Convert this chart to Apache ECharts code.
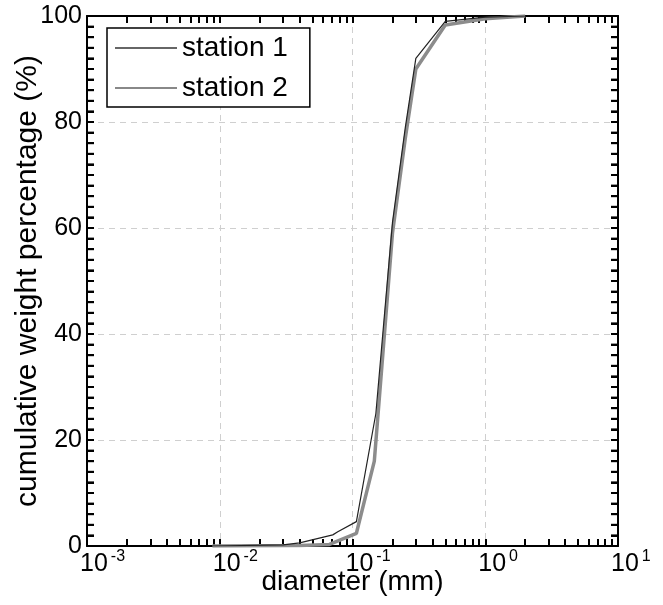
<!DOCTYPE html>
<html>
<head>
<meta charset="utf-8">
<script src="https://cdn.jsdelivr.net/npm/echarts@6/dist/echarts.min.js"></script>
<style>html,body{margin:0;padding:0;background:#fff}#c{width:663px;height:605px}</style>
</head>
<body>
<div id="c"></div>
<script>
// diameter (mm) and cumulative weight percentage (%)
var station1D = [0.0088, 0.03, 0.04, 0.071, 0.0775, 0.107, 0.15, 0.2, 0.25, 0.3, 0.5, 1, 2];
var station1V = [0, 0.2, 0.6, 2.1, 2.7, 4.6, 25, 61, 79, 92, 99.0, 99.8, 100];
var station2D = [0.0088, 0.04, 0.067, 0.107, 0.146, 0.2, 0.25, 0.3, 0.5, 1, 2];
var station2V = [0, 0.1, 0.3, 2.4, 16, 59, 77, 90, 98.3, 99.5, 100];
var seriesNames = ['station 1', 'station 2'];
var xMajorTicks = [0.001, 0.01, 0.1, 1, 10];
var xMinorFactors = [1, 2, 3, 4, 5, 6, 7, 8, 9];
var yTicks = [0, 20, 40, 60, 80, 100];
var yMinorStep = 2;

var FONT = "'Liberation Sans', Arial, Helvetica, sans-serif";
var xMin = xMajorTicks[0], xMax = xMajorTicks[xMajorTicks.length - 1];
var xAllTicks = [];
xMajorTicks.slice(0, -1).forEach(function (m) {
  xMinorFactors.forEach(function (f) { xAllTicks.push(+(m * f).toPrecision(6)); });
});
xAllTicks.push(xMax);
var yAllTicks = [];
for (var v = yTicks[0]; v <= yTicks[yTicks.length - 1]; v += yMinorStep) yAllTicks.push(v);
// y tick marks on both the left and right frame edges
var yTickData = [];
yAllTicks.forEach(function (t) { yTickData.push([xMin, t, 1]); yTickData.push([xMax, t, -1]); });

function zip(a, b) { return a.map(function (v, i) { return [v, b[i]]; }); }

function gridLine() { return { show: true, lineStyle: { color: '#cfcfcf', type: [6, 5], width: 1 } }; }
function xBase(pos) {
  return {
    type: 'log', logBase: 10, min: xMin, max: xMax, position: pos,
    axisLine: { show: true, onZero: false, lineStyle: { color: '#000', width: 2 } },
    axisTick: { show: true, inside: true, length: 7, customValues: xAllTicks, lineStyle: { color: '#000', width: 2 } },
    axisLabel: { show: false },
    splitLine: { show: false }
  };
}
var xMain = {
  type: 'log', logBase: 10, min: xMin, max: xMax, position: 'bottom',
  axisLine: { show: false, onZero: false },
  axisTick: { show: false },
  axisLabel: {
    show: true, customValues: xMajorTicks, margin: 3, align: 'left', padding: [0, 0, 0, -7],
    formatter: function (v) { var e = Math.round(Math.log10(v)); return '{b|10}{s|' + e + '}'; },
    rich: {
      b: { fontSize: 25, fontFamily: FONT, color: '#000', verticalAlign: 'bottom' },
      s: { fontSize: 16, fontFamily: FONT, color: '#000', verticalAlign: 'bottom', padding: [0, 0, 12, 3] }
    }
  },
  splitLine: gridLine(),
  name: 'diameter (mm)', nameLocation: 'middle', nameGap: 22, nameMoveOverlap: false,
  nameTextStyle: { fontSize: 28, fontFamily: FONT, color: '#000', verticalAlign: 'top' }
};
function yBase(pos) {
  return {
    type: 'value', min: yTicks[0], max: yTicks[yTicks.length - 1], interval: 20, position: pos,
    axisLine: { show: true, lineStyle: { color: '#000', width: 2 } },
    axisTick: { show: true, inside: true, length: 7, lineStyle: { color: '#000', width: 2 } },
    minorTick: { show: true, splitNumber: 10, length: 7, lineStyle: { color: '#000', width: 2 } },
    axisLabel: { show: false },
    splitLine: { show: false }
  };
}
var yMain = {
  type: 'value', min: yTicks[0], max: yTicks[yTicks.length - 1], interval: 20, position: 'left',
  axisLine: { show: false },
  axisTick: { show: false },
  axisLabel: { show: true, fontSize: 25, fontFamily: FONT, color: '#000', margin: 5 },
  splitLine: gridLine(),
  name: 'cumulative weight percentage (%)', nameLocation: 'middle', nameGap: 44, nameMoveOverlap: false,
  nameTextStyle: { fontSize: 30, fontFamily: FONT, color: '#000' }
};

var chart = echarts.init(document.getElementById('c'), null, { renderer: 'canvas' });
chart.setOption({
  animation: false,
  backgroundColor: '#fff',
  grid: { left: 87, right: 45, top: 16, bottom: 59, outerBoundsMode: 'none' },
  xAxis: [xMain, xBase('bottom'), xBase('top')],
  yAxis: [yMain, yBase('left'), yBase('right')],
  legend: {
    left: 107, top: 28, orient: 'vertical', padding: [5, 22, 4, 8], itemGap: 10,
    itemWidth: 62, itemHeight: 2, icon: 'rect', backgroundColor: '#fff', borderColor: '#000', borderWidth: 1.5,
    textStyle: { fontSize: 28, lineHeight: 30, fontFamily: FONT, color: '#000' },
    data: [
      { name: seriesNames[0], itemStyle: { color: '#666' } },
      { name: seriesNames[1], itemStyle: { color: '#888' } }
    ],
    z: 10
  },
  series: [
    { type: 'custom', xAxisIndex: 0, yAxisIndex: 0, silent: true, z: 5, clip: false,
      data: yTickData,
      renderItem: function (params, api) {
        var p = api.coord([api.value(0), api.value(1)]);
        var dir = api.value(2);
        return { type: 'line', shape: { x1: p[0], y1: p[1], x2: p[0] + dir * 7, y2: p[1] },
                 style: { stroke: '#000', lineWidth: 2 } };
      } },
    { name: seriesNames[1], type: 'line', xAxisIndex: 0, yAxisIndex: 0, symbol: 'none',
      lineStyle: { color: '#8c8c8c', width: 3.5 }, itemStyle: { color: '#8c8c8c' },
      data: zip(station2D, station2V), z: 2 },
    { name: seriesNames[0], type: 'line', xAxisIndex: 0, yAxisIndex: 0, symbol: 'none',
      lineStyle: { color: '#222', width: 1.2 }, itemStyle: { color: '#222' },
      data: zip(station1D, station1V), z: 3 }
  ]
});
</script>
</body>
</html>
